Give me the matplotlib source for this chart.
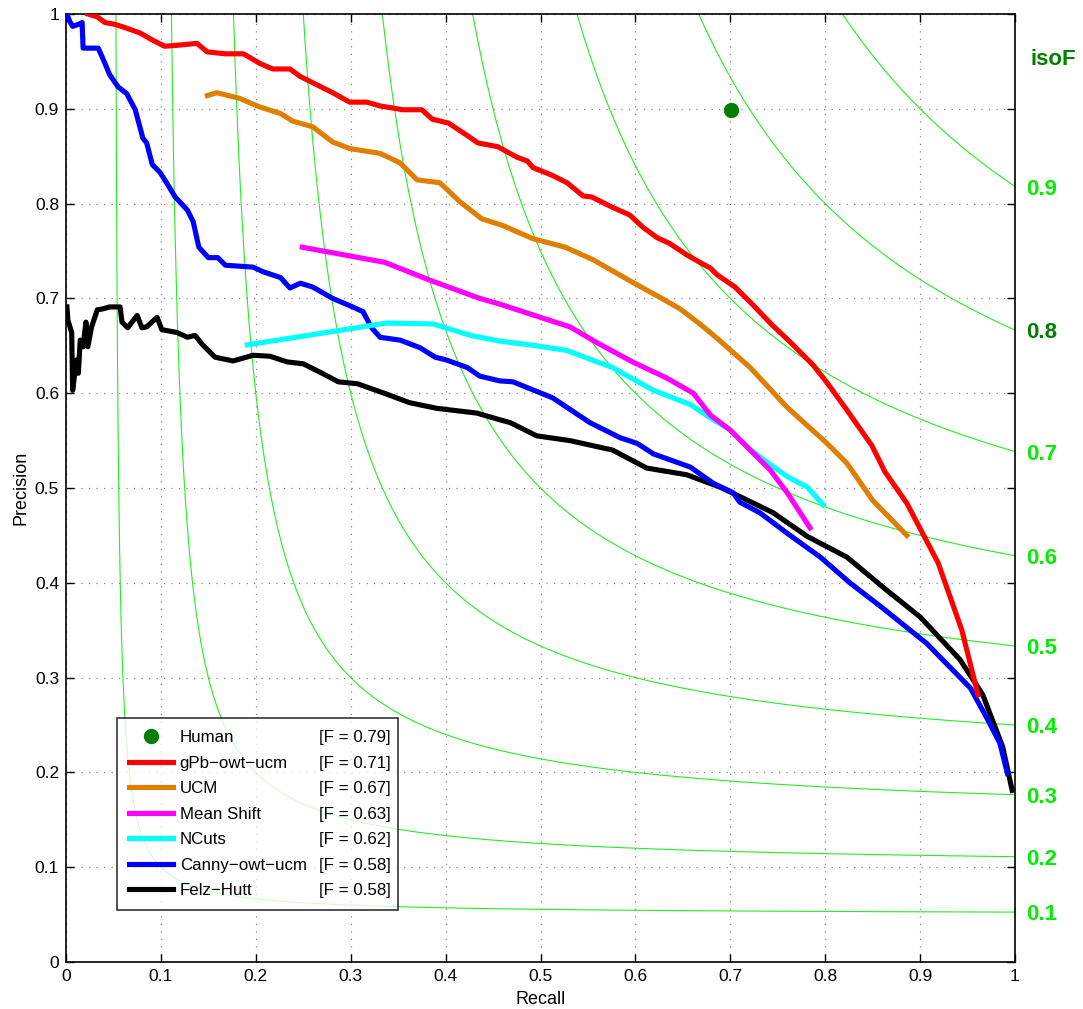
import numpy as np
import matplotlib
matplotlib.use("Agg")
import matplotlib.pyplot as plt
from matplotlib.lines import Line2D

plt.rcParams['font.family'] = ['Liberation Sans', 'DejaVu Sans']

# ---------------- data ----------------
names = ["Human", "gPb\u2212owt\u2212ucm", "UCM", "Mean Shift", "NCuts", "Canny\u2212owt\u2212ucm", "Felz\u2212Hutt"]
fscores = ["0.79", "0.71", "0.67", "0.63", "0.62", "0.58", "0.58"]
colors = ["#007f00", "#ff0000", "#df7e00", "#ff00ff", "#00ffff", "#0000ff", "#000000"]

human_r = [0.701]
human_p = [0.899]

gpb_r = [0.023, 0.033, 0.041, 0.052, 0.064, 0.078, 0.092, 0.104, 0.117, 0.138, 0.149, 0.168, 0.187,
         0.204, 0.213, 0.218, 0.236, 0.247, 0.257, 0.271, 0.281, 0.299, 0.317, 0.331, 0.355, 0.375,
         0.386, 0.403, 0.424, 0.434, 0.455, 0.475, 0.486, 0.492, 0.512, 0.528, 0.545, 0.554, 0.576,
         0.594, 0.608, 0.623, 0.636, 0.654, 0.668, 0.679, 0.686, 0.705, 0.724, 0.744, 0.761, 0.787,
         0.802, 0.823, 0.849, 0.863, 0.886, 0.919, 0.944, 0.961]
gpb_p = [1.000, 0.997, 0.991, 0.989, 0.985, 0.980, 0.972, 0.966, 0.967, 0.969, 0.960, 0.958, 0.958,
         0.948, 0.944, 0.942, 0.942, 0.934, 0.929, 0.922, 0.917, 0.907, 0.907, 0.903, 0.899, 0.899,
         0.889, 0.885, 0.871, 0.864, 0.860, 0.849, 0.845, 0.838, 0.830, 0.822, 0.808, 0.807, 0.796,
         0.788, 0.775, 0.764, 0.758, 0.746, 0.738, 0.732, 0.725, 0.712, 0.693, 0.672, 0.656, 0.630,
         0.611, 0.582, 0.545, 0.517, 0.484, 0.421, 0.350, 0.282]

ucm_r = [0.149, 0.159, 0.183, 0.204, 0.226, 0.239, 0.260, 0.281, 0.299, 0.331, 0.352, 0.370, 0.394,
         0.415, 0.438, 0.460, 0.492, 0.526, 0.555, 0.597, 0.626, 0.647, 0.668, 0.686, 0.721, 0.760,
         0.802, 0.823, 0.850, 0.886]
ucm_p = [0.914, 0.917, 0.911, 0.902, 0.895, 0.887, 0.881, 0.865, 0.858, 0.853, 0.843, 0.825, 0.822,
         0.802, 0.784, 0.777, 0.763, 0.754, 0.741, 0.717, 0.701, 0.689, 0.673, 0.658, 0.627, 0.585,
         0.547, 0.526, 0.487, 0.450]

ms_r = [0.249, 0.336, 0.384, 0.436, 0.457, 0.503, 0.531, 0.560, 0.597, 0.633, 0.661, 0.679, 0.700,
        0.721, 0.742, 0.760, 0.784]
ms_p = [0.754, 0.738, 0.719, 0.700, 0.694, 0.679, 0.670, 0.653, 0.633, 0.616, 0.600, 0.577, 0.561,
        0.540, 0.519, 0.495, 0.458]

nc_r = [0.191, 0.338, 0.387, 0.426, 0.457, 0.496, 0.528, 0.576, 0.619, 0.658, 0.679, 0.700, 0.718,
        0.739, 0.760, 0.781, 0.798]
nc_p = [0.651, 0.674, 0.673, 0.661, 0.655, 0.650, 0.645, 0.627, 0.603, 0.588, 0.574, 0.561, 0.543,
        0.527, 0.512, 0.501, 0.482]

canny_r = [0.001, 0.004, 0.007, 0.013, 0.017, 0.018, 0.034, 0.041, 0.046, 0.055, 0.064, 0.073, 0.081,
           0.085, 0.091, 0.099, 0.106, 0.115, 0.128, 0.134, 0.140, 0.150, 0.160, 0.168, 0.197, 0.208,
           0.226, 0.236, 0.247, 0.260, 0.281, 0.302, 0.313, 0.322, 0.331, 0.352, 0.373, 0.389, 0.401,
           0.423, 0.436, 0.457, 0.471, 0.513, 0.552, 0.584, 0.602, 0.619, 0.658, 0.682, 0.703, 0.710,
           0.731, 0.763, 0.795, 0.826, 0.861, 0.907, 0.953, 0.970, 0.984, 0.992]
canny_p = [1.000, 0.992, 0.987, 0.989, 0.991, 0.964, 0.964, 0.948, 0.936, 0.923, 0.916, 0.899, 0.869,
           0.864, 0.841, 0.833, 0.822, 0.807, 0.793, 0.781, 0.754, 0.743, 0.743, 0.735, 0.733, 0.728,
           0.722, 0.711, 0.716, 0.712, 0.700, 0.691, 0.686, 0.669, 0.659, 0.656, 0.648, 0.638, 0.635,
           0.627, 0.618, 0.613, 0.612, 0.595, 0.569, 0.553, 0.547, 0.536, 0.522, 0.505, 0.495, 0.485,
           0.474, 0.450, 0.427, 0.400, 0.373, 0.336, 0.289, 0.258, 0.231, 0.199]

felz_r = [0.001, 0.002, 0.006, 0.007, 0.011, 0.013, 0.015, 0.018, 0.021, 0.023, 0.027, 0.033, 0.039,
          0.046, 0.057, 0.059, 0.065, 0.075, 0.080, 0.085, 0.096, 0.101, 0.117, 0.128, 0.136, 0.144,
          0.157, 0.176, 0.197, 0.215, 0.233, 0.250, 0.268, 0.287, 0.307, 0.338, 0.362, 0.391, 0.433,
          0.457, 0.468, 0.496, 0.531, 0.576, 0.612, 0.654, 0.689, 0.710, 0.745, 0.781, 0.823, 0.865,
          0.900, 0.942, 0.966, 0.987, 0.997]
felz_p = [0.691, 0.677, 0.664, 0.603, 0.635, 0.621, 0.656, 0.649, 0.675, 0.649, 0.670, 0.688, 0.689,
          0.691, 0.691, 0.675, 0.669, 0.682, 0.669, 0.670, 0.680, 0.667, 0.664, 0.659, 0.661, 0.651,
          0.638, 0.634, 0.640, 0.639, 0.633, 0.631, 0.622, 0.612, 0.610, 0.599, 0.590, 0.584, 0.579,
          0.572, 0.569, 0.555, 0.550, 0.540, 0.521, 0.514, 0.501, 0.491, 0.474, 0.449, 0.427, 0.392,
          0.364, 0.319, 0.282, 0.227, 0.181]

iso_f = [0.1, 0.2, 0.3, 0.4, 0.5, 0.6, 0.7, 0.8, 0.9]
iso_labels = ["0.1", "0.2", "0.3", "0.4", "0.5", "0.6", "0.7", "0.8", "0.9"]
iso_label_colors = ["#00ee00"] * 7 + ["#007f00", "#00ee00"]
ticks = [0, 0.1, 0.2, 0.3, 0.4, 0.5, 0.6, 0.7, 0.8, 0.9, 1]
tick_labels = ["0", "0.1", "0.2", "0.3", "0.4", "0.5", "0.6", "0.7", "0.8", "0.9", "1"]

# ---------------- figure ----------------
W, H = 1083, 1009
fig = plt.figure(figsize=(W / 100, H / 100), dpi=100)
ax = fig.add_axes([66 / W, (H - 962) / H, (1015 - 66) / W, (962 - 14) / H])
ax.set_xlim(0, 1)
ax.set_ylim(0, 1)

# iso-F curves (P = F*R / (2R - F)), drawn from where P = 1 down to R = 1
for f in iso_f:
    r0 = f / (2 - f)
    r = f / 2 + (r0 - f / 2) * np.geomspace(1, (1 - f / 2) / (r0 - f / 2), 3000)
    p = f * r / (2 * r - f)
    ax.plot(r, p, color="#22ee22", lw=0.8, zorder=1)

series = [(felz_r, felz_p, colors[6]), (canny_r, canny_p, colors[5]), (nc_r, nc_p, colors[4]),
          (ms_r, ms_p, colors[3]), (ucm_r, ucm_p, colors[2]), (gpb_r, gpb_p, colors[1])]
for r, p, c in series:
    ax.plot(r, p, color=c, lw=3.7, solid_joinstyle='round', zorder=3)
ax.plot(human_r, human_p, 'o', color=colors[0], markersize=10, zorder=4)

# grid / ticks
ax.set_xticks(ticks)
ax.set_yticks(ticks)
ax.set_xticklabels(tick_labels)
ax.set_yticklabels(tick_labels)
ax.grid(True, color="#888888", linestyle=(0, (1, 5)), linewidth=0.9)
ax.tick_params(direction='in', length=6, width=1, top=True, right=True, labelsize=12.5,
               colors='black', pad=5)
for s in ax.spines.values():
    s.set_linewidth(1.2)
ax.set_xlabel("Recall", fontsize=13, labelpad=5)
ax.set_ylabel("Precision", fontsize=13, labelpad=4)

# iso labels
for f, lab, c in zip(iso_f, iso_labels, iso_label_colors):
    ax.text(1.012, f / (2 - f) - 0.003, lab, color=c, fontsize=16, fontweight='bold',
            va='center', ha='left', clip_on=False, transform=ax.transData)
ax.text(1.016, 0.9525, "isoF", color="#007f00", fontsize=16, fontweight='bold',
        va='center', ha='left', clip_on=False)

# legend
handles = [Line2D([], [], marker='o', color=colors[0], linestyle='none', markersize=10)]
handles += [Line2D([], [], color=c, lw=3.7) for c in colors[1:]]
leg = ax.legend(handles, names, loc='lower left',
                bbox_to_anchor=((117 - 66) / 949, (962 - 910) / 948, (398 - 117) / 949, 0.2),
                mode='expand', borderaxespad=0, fontsize=12.2, frameon=True, fancybox=False,
                edgecolor='black', handlelength=2.6, handletextpad=0.4, labelspacing=0.62,
                borderpad=0.7)
leg.get_frame().set_linewidth(1.2)
leg.set_zorder(10)

fig.canvas.draw()
inv = fig.transFigure.inverted()
for t, fv in zip(leg.get_texts(), fscores):
    bb = t.get_window_extent()
    yc = (bb.y0 + bb.y1) / 2
    _, yf = inv.transform((0, yc))
    fig.text(391 / W, yf, f"[F = {fv}]", fontsize=12.2, ha='right', va='center', zorder=11)

fig.savefig("out.png", dpi=100)
